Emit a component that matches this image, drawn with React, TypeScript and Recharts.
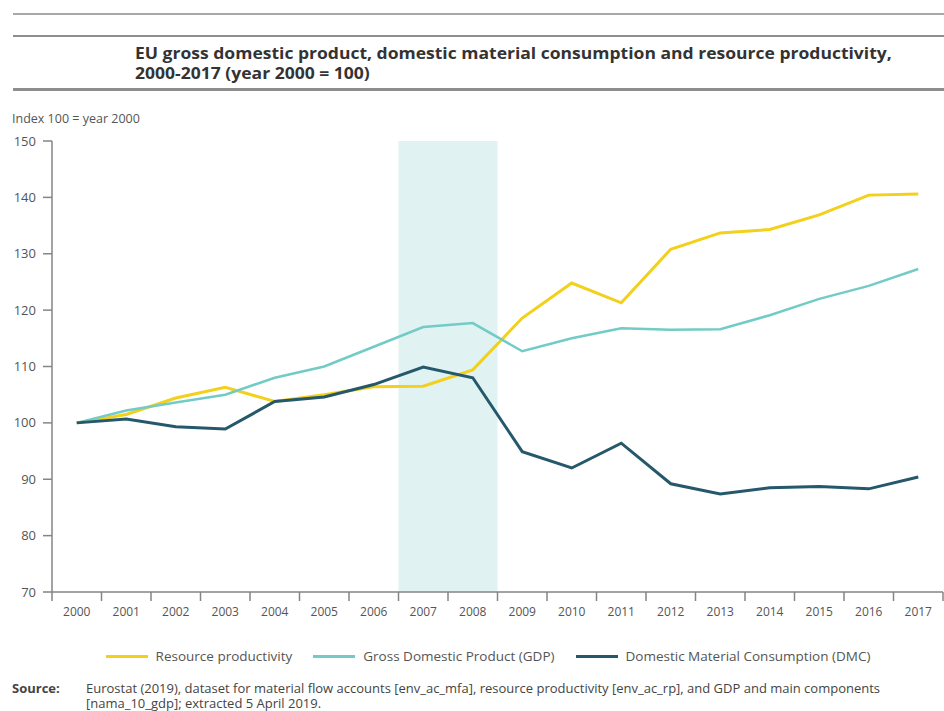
import { Legend, Line, LineChart, ReferenceArea, XAxis, YAxis } from "recharts";

const years = [
  "2000", "2001", "2002", "2003", "2004", "2005", "2006", "2007", "2008",
  "2009", "2010", "2011", "2012", "2013", "2014", "2015", "2016", "2017",
];

const resourceProductivity = [
  100, 101.5, 104.4, 106.3, 103.8, 105.0, 106.4, 106.5, 109.4,
  118.6, 124.8, 121.3, 130.8, 133.7, 134.3, 136.9, 140.4, 140.6,
];

const gdp = [
  100, 102.2, 103.6, 105.0, 108.0, 110.0, 113.5, 117.0, 117.7,
  112.7, 115.0, 116.8, 116.5, 116.6, 119.1, 122.0, 124.3, 127.3,
];

const dmc = [
  100, 100.7, 99.3, 98.9, 103.8, 104.6, 106.8, 109.9, 108.0,
  94.9, 92.0, 96.4, 89.2, 87.4, 88.5, 88.7, 88.3, 90.4,
];

const yTicks = [70, 80, 90, 100, 110, 120, 130, 140, 150];

const series = [
  { key: "rp", name: "Resource productivity", color: "#f3d01a", width: 3 },
  { key: "gdp", name: "Gross Domestic Product (GDP)", color: "#72cbc6", width: 2.5 },
  { key: "dmc", name: "Domestic Material Consumption (DMC)", color: "#24586a", width: 3 },
];

const data = years.map((year, i) => ({
  year,
  rp: resourceProductivity[i],
  gdp: gdp[i],
  dmc: dmc[i],
}));

const FONT = "'Open Sans', 'DejaVu Sans', sans-serif";
const AXIS = "#858585";
const TEXT = "#555";

const CHART_W = 944;
const MARGIN = { top: 141, right: 1, left: 0, bottom: 69 };
const Y_WIDTH = 52;
const BAND = (CHART_W - MARGIN.left - MARGIN.right - Y_WIDTH) / years.length;

// year labels sit mid-band, tick marks sit on the band edges
function YearTick(props: any) {
  const { x, y, payload, index } = props;
  const half = BAND / 2;
  const top = y - 10;
  return (
    <g>
      <line x1={x - half} x2={x - half} y1={top} y2={top + 9} stroke={AXIS} strokeWidth={1.5} />
      {index === years.length - 1 && (
        <line x1={x + half} x2={x + half} y1={top} y2={top + 9} stroke={AXIS} strokeWidth={1.5} />
      )}
      <text x={x} y={y + 14} textAnchor="middle" fontSize={12} fill={TEXT} fontFamily={FONT}>
        {payload.value}
      </text>
    </g>
  );
}

function LegendRow() {
  return (
    <div
      style={{
        display: "flex",
        justifyContent: "center",
        alignItems: "center",
        gap: 21,
        height: 20,
        fontFamily: FONT,
        fontSize: 13.5,
        color: TEXT,
        paddingLeft: 32,
      }}
    >
      {series.map((s) => (
        <div key={s.key} style={{ display: "flex", alignItems: "center", gap: 8 }}>
          <span style={{ width: 42, height: 3, background: s.color, display: "inline-block" }} />
          <span>{s.name}</span>
        </div>
      ))}
    </div>
  );
}

const rule = (top: number, h: number, color: string) => (
  <div style={{ position: "absolute", left: 13, right: 0, top, height: h, background: color }} />
);

export default function App() {
  return (
    <div
      style={{
        position: "absolute",
        left: 0,
        top: 0,
        width: CHART_W,
        height: 711,
        background: "#fff",
        fontFamily: FONT,
        overflow: "hidden",
      }}
    >
      {rule(13, 2, "#a8a8a8")}
      {rule(35, 2, "#8e8e8e")}
      {rule(88, 3, "#8e8e8e")}
      <div
        style={{
          position: "absolute",
          left: 135,
          top: 43,
          fontSize: 15.5,
          fontWeight: 700,
          lineHeight: "20px",
          color: "#333",
          whiteSpace: "nowrap",
          transform: "scaleX(1.13)",
          transformOrigin: "left top",
        }}
      >
        EU gross domestic product, domestic material consumption and resource productivity,
        <br />
        2000-2017 (year 2000 = 100)
      </div>
      <div style={{ position: "absolute", left: 12, top: 110, fontSize: 12.5, color: TEXT }}>
        Index 100 = year 2000
      </div>

      <LineChart width={CHART_W} height={711} data={data} margin={MARGIN} style={{ position: "absolute", left: 0, top: 0 }}>
        <ReferenceArea x1="2007" x2="2008" fill="#e1f2f2" fillOpacity={1} stroke="none" />
        <XAxis
          dataKey="year"
          scale="band"
          height={30}
          tickLine={false}
          tickSize={8}
          tickMargin={2}
          axisLine={{ stroke: AXIS, strokeWidth: 1.5 }}
          tick={<YearTick />}
          interval={0}
        />
        <YAxis
          domain={[70, 150]}
          ticks={yTicks}
          width={Y_WIDTH}
          tickSize={9}
          tickMargin={7}
          tickLine={{ stroke: AXIS, strokeWidth: 1.5 }}
          axisLine={{ stroke: AXIS, strokeWidth: 1.5 }}
          tick={{ fontSize: 13, fill: TEXT, fontFamily: FONT }}
          allowDataOverflow
        />
        {series.map((s) => (
          <Line
            key={s.key}
            type="linear"
            dataKey={s.key}
            name={s.name}
            stroke={s.color}
            strokeWidth={s.width}
            dot={false}
            activeDot={false}
            isAnimationActive={false}
          />
        ))}
        <Legend verticalAlign="bottom" content={<LegendRow />} wrapperStyle={{ top: 646, left: 0, width: CHART_W }} />
      </LineChart>

      <div
        style={{
          position: "absolute",
          left: 12,
          top: 681,
          width: 920,
          fontSize: 13,
          lineHeight: "15px",
          color: "#444",
          display: "flex",
        }}
      >
        <span style={{ fontWeight: 700, width: 74, flexShrink: 0 }}>Source:</span>
        <span>
          Eurostat (2019), dataset for material flow accounts [env_ac_mfa], resource productivity [env_ac_rp], and GDP
          and main components [nama_10_gdp]; extracted 5 April 2019.
        </span>
      </div>
    </div>
  );
}
